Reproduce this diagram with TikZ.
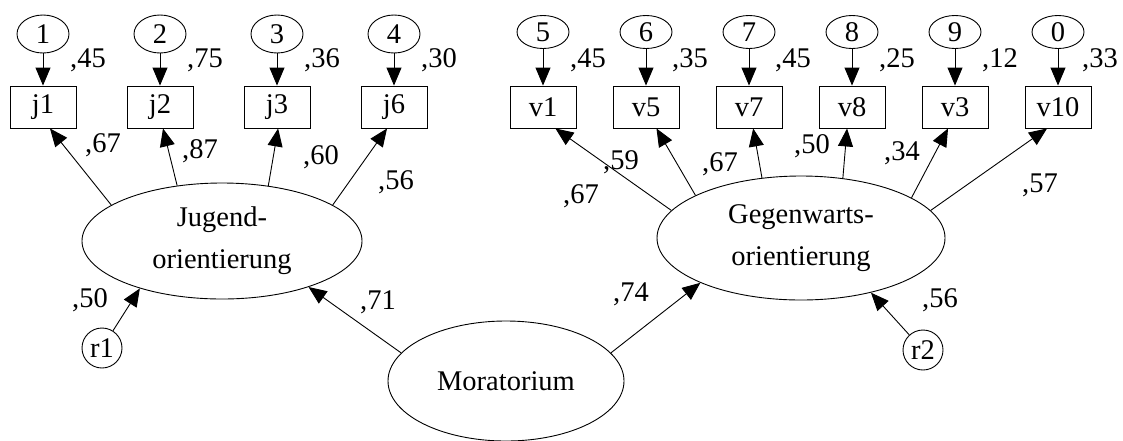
\documentclass[tikz,border=0pt]{standalone}
\usepackage{fontspec}
\setmainfont{Liberation Serif}
\usetikzlibrary{arrows.meta,shapes.geometric}
\begin{document}
\begin{tikzpicture}[x=1pt,y=-1pt,
  every node/.style={font=\fontsize{28.5}{42}\selectfont, inner sep=0pt},
  ln/.style={line width=0.9pt},
  arr/.style={ln,-{Triangle[length=18pt,width=15pt]}},
  errj/.style={draw,ln,ellipse,minimum width=52pt,minimum height=38pt},
  errv/.style={draw,ln,ellipse,minimum width=52pt,minimum height=33pt},
  obs/.style={draw,ln,rectangle,minimum width=66pt,minimum height=42pt},
  lat/.style={draw,ln,ellipse,align=center},
  res/.style={draw,ln,circle,minimum size=40pt},
  lab/.style={}
]
\useasboundingbox (0,0) rectangle (1123,440);
% error terms (Jugend)
\node[errj] (e1) at (43,34) {1};
\node[errj] (e2) at (160,34) {2};
\node[errj] (e3) at (277,34) {3};
\node[errj] (e4) at (394,34) {4};
% error terms (Gegenwart)
\node[errv] (e5) at (543,32) {5};
\node[errv] (e6) at (646,32) {6};
\node[errv] (e7) at (749,32) {7};
\node[errv] (e8) at (852,32) {8};
\node[errv] (e9) at (955,32) {9};
\node[errv] (e0) at (1058,32) {0};
% observed
\node[obs] (j1) at (43,107) {j1};
\node[obs] (j2) at (160,107) {j2};
\node[obs] (j3) at (277,107) {j3};
\node[obs] (j6) at (394,107) {j6};
\node[obs] (v1) at (543,107) {v1};
\node[obs] (v5) at (646,107) {v5};
\node[obs] (v7) at (749,107) {v7};
\node[obs] (v8) at (852,107) {v8};
\node[obs] (v3) at (955,107) {v3};
\node[obs] (v10) at (1058,107) {v10};
% latent
\node[lat,minimum width=280pt,minimum height=116pt] (J) at (222,241) {Jugend-\\orientierung};
\node[lat,minimum width=288pt,minimum height=124pt] (G) at (801,238) {Gegenwarts-\\orientierung};
\node[lat,minimum width=236pt,minimum height=120pt] (M) at (506,381) {Moratorium};
\node[res] (r1) at (102,348) {r1};
\node[res] (r2) at (923,350) {r2};
% error arrows
\foreach \a/\b in {e1/j1,e2/j2,e3/j3,e4/j6,e5/v1,e6/v5,e7/v7,e8/v8,e9/v3,e0/v10}
  \draw[arr] (\a) -- (\b);
% loadings
\draw[arr] (J.162) -- (j1.-72);
\draw[arr] (J.129) -- (j2.-82);
\draw[arr] (J.50) -- (j3.-87);
\draw[arr] (J.18) -- (j6.-108);
\draw[arr] (G.168) -- (v1.-60);
\draw[arr] (G.158.5) -- (v5.-64.5);
\draw[arr] (G.123) -- (v7.-79);
\draw[arr] (G.55.5) -- (v8.-103);
\draw[arr] (G.20.7) -- (v3.-108);
\draw[arr] (G.12) -- (v10.-117.6);
% structural
\draw[arr] (M.165) -- (J.-28);
\draw[arr] (M.15) -- (G.204);
\draw[arr] (r1) -- (J.210);
\draw[arr] (r2) -- (G.-38);
% labels top
\node[lab] (t1) at (88,60) {,45};
\node[lab] (t2) at (205,60) {,75};
\node[lab] (t3) at (322,60) {,36};
\node[lab] (t4) at (439,60) {,30};
\node[lab] (t5) at (588,60) {,45};
\node[lab] (t6) at (690,60) {,35};
\node[lab] (t7) at (793,60) {,45};
\node[lab] (t8) at (897,60) {,25};
\node[lab] (t9) at (1000,60) {,12};
\node[lab] (t0) at (1100,60) {,33};
% loading labels
\node[lab] (lj1) at (103,145) {,67};
\node[lab] (lj2) at (200,151) {,87};
\node[lab] (lj3) at (321,157) {,60};
\node[lab] (lj6) at (396,182) {,56};
\node[lab] (lv5) at (621,162) {,59};
\node[lab] (lv1) at (581,196) {,67};
\node[lab] (lv7) at (720,164) {,67};
\node[lab] (lv8) at (812,146) {,50};
\node[lab] (lv3) at (902,153) {,34};
\node[lab] (lv10) at (1040,185) {,57};
\node[lab] (lmj) at (378,302) {,71};
\node[lab] (lmg) at (631,294) {,74};
\node[lab] (lr1) at (90,300) {,50};
\node[lab] (lr2) at (940,300) {,56};
\end{tikzpicture}
\end{document}
